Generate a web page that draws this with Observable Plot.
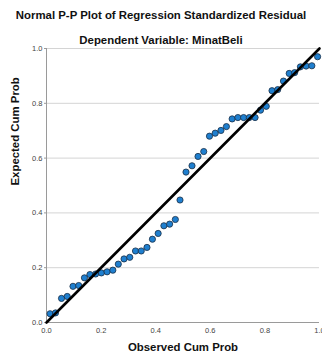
<!DOCTYPE html>
<html>
<head>
<meta charset="utf-8">
<script src="https://cdn.jsdelivr.net/npm/d3@7"></script>
<script src="https://cdn.jsdelivr.net/npm/@observablehq/plot@0.6"></script>
<style>
  html, body { margin: 0; padding: 0; background: #fff; }
  body { width: 322px; height: 358px; overflow: hidden; font-family: "Liberation Sans", Arial, sans-serif; position: relative; }
  .t1 { position: absolute; z-index: 2; left: 0; width: 322px; top: 7px; text-align: center; font-weight: bold; font-size: 11.4px; color: #111; line-height: 16px; }
  .t2 { position: absolute; z-index: 2; left: 0; width: 322px; top: 32px; text-align: center; font-weight: bold; font-size: 11.4px; color: #111; line-height: 16px; }
  #chart { position: absolute; z-index: 1; left: 0; top: 40px; }
</style>
</head>
<body>
<div class="t1">Normal P-P Plot of Regression Standardized Residual</div>
<div class="t2">Dependent Variable: MinatBeli</div>
<div id="chart"></div>
<script>
const observed = [0.013,0.033,0.055,0.076,0.097,0.118,0.139,0.159,0.180,0.201,0.222,0.243,0.263,0.284,0.305,0.326,0.347,0.368,0.388,0.409,0.430,0.451,0.472,0.489,
                  0.511,0.533,0.555,0.576,0.597,0.618,0.639,0.659,0.680,0.701,0.722,0.743,0.764,0.784,0.805,0.826,0.847,0.868,0.889,0.909,0.930,0.951,0.972,0.993];
const expected = [0.032,0.035,0.088,0.095,0.132,0.135,0.163,0.175,0.177,0.181,0.185,0.191,0.213,0.232,0.238,0.261,0.261,0.274,0.304,0.325,0.353,0.359,0.376,0.447,
                  0.549,0.572,0.606,0.624,0.680,0.691,0.701,0.715,0.743,0.748,0.748,0.748,0.748,0.775,0.789,0.846,0.850,0.881,0.909,0.912,0.933,0.936,0.937,0.970];
const ticks = [0, 0.2, 0.4, 0.6, 0.8, 1.0];
const gridTicks = [0.2, 0.4, 0.6, 0.8, 1.0];
const diagonal = [0, 1];

const points = observed.map((x, i) => ({x, y: expected[i]}));

const chart = Plot.plot({
  width: 322,
  height: 318,
  marginTop: 8,
  marginBottom: 36,
  marginLeft: 46,
  marginRight: 3,
  style: {fontFamily: "Liberation Sans, Arial, sans-serif", background: "transparent", overflow: "visible"},
  x: {domain: [0, 1], ticks: ticks, tickFormat: d3.format(".1f"), tickSize: 0, tickPadding: 5, label: null},
  y: {domain: [0, 1], ticks: ticks, tickFormat: d3.format(".1f"), tickSize: 2, tickPadding: 2, label: null},
  marks: [
    Plot.ruleY(gridTicks, {stroke: "#d4d4d4", strokeWidth: 1}),
    Plot.ruleX([0], {stroke: "#9a9a9a", strokeWidth: 1}),
    Plot.ruleY([0], {stroke: "#9a9a9a", strokeWidth: 1}),
    Plot.axisX({ticks: ticks, tickFormat: d3.format(".1f"), tickSize: 0, tickPadding: 5, fontSize: 7.5, fill: "#444", label: null}),
    Plot.axisY({ticks: ticks, tickFormat: d3.format(".1f"), tickSize: 2, tickPadding: 2, fontSize: 7.5, fill: "#444", stroke: "#9a9a9a", label: null}),
    Plot.dot(points, {x: "x", y: "y", r: 3.1, fill: "#1f7fcf", stroke: "#1b2f45", strokeWidth: 0.8}),
    Plot.line(diagonal.map(v => ({v})), {x: "v", y: "v", stroke: "#000", strokeWidth: 2.6}),
    Plot.text(["Observed Cum Prob"], {frameAnchor: "bottom", dy: 28, fontSize: 11.4, fontWeight: "bold", fill: "#111"}),
    Plot.text(["Expected Cum Prob"], {frameAnchor: "left", dx: -31, rotate: -90, fontSize: 11.4, fontWeight: "bold", fill: "#111"})
  ]
});
document.getElementById("chart").appendChild(chart);
</script>
</body>
</html>
